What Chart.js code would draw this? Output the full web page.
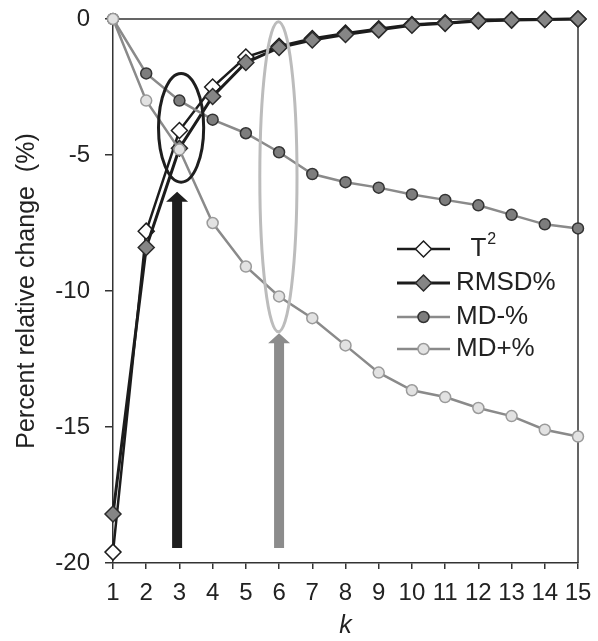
<!DOCTYPE html>
<html>
<head>
<meta charset="utf-8">
<script src="https://cdn.jsdelivr.net/npm/chart.js@4"></script>
<style>
  html, body { margin: 0; padding: 0; background: #fff; }
</style>
</head>
<body>
<canvas id="chart" width="598" height="641"></canvas>
<script>
// values
const kValues = [1, 2, 3, 4, 5, 6, 7, 8, 9, 10, 11, 12, 13, 14, 15];
const t2Values = [-19.6, -7.8, -4.1, -2.5, -1.4, -1.0, -0.72, -0.52, -0.36, -0.2, -0.14, -0.06, -0.03, -0.01, 0];
const rmsdValues = [-18.2, -8.4, -4.75, -2.85, -1.6, -1.05, -0.77, -0.57, -0.4, -0.23, -0.16, -0.07, -0.04, -0.02, 0];
const mdMinusValues = [0, -2.0, -3.0, -3.7, -4.2, -4.9, -5.7, -6.0, -6.2, -6.45, -6.65, -6.85, -7.2, -7.55, -7.7];
const mdPlusValues = [0, -3.0, -4.8, -7.5, -9.1, -10.2, -11.0, -12.0, -13.0, -13.65, -13.9, -14.3, -14.6, -15.1, -15.35];
const seriesNames = ["  T²", "RMSD%", "MD-%", "MD+%"];
const yTickValues = [0, -5, -10, -15, -20];

// annotations (in data units): ellipses and arrows
const ellipses = [
  { k: 3.05, top: -2.0, bottom: -6.0, halfK: 0.68, color: "#1e1e1e" },
  { k: 5.98, top: -0.1, bottom: -11.5, halfK: 0.56, color: "#bcbcbc" }
];
const arrows = [
  { k: 2.93, from: -19.45, to: -6.35, color: "#1e1e1e" },
  { k: 6.0, from: -19.45, to: -11.55, color: "#8c8c8c" }
];

const FONT = '"Liberation Sans Narrow", "Liberation Sans", Arial, sans-serif';
const toPoints = vals => kValues.map((k, i) => ({ x: k, y: vals[i] }));

const annotationPlugin = {
  id: "annotations",
  afterDatasetsDraw(chart) {
    const { ctx, scales: { x, y } } = chart;
    ctx.save();
    arrows.forEach(a => {
      const cx = x.getPixelForValue(a.k);
      const yb = y.getPixelForValue(a.from);
      const yt = y.getPixelForValue(a.to);
      ctx.fillStyle = a.color;
      ctx.beginPath();
      ctx.moveTo(cx - 5, yb);
      ctx.lineTo(cx - 5, yt + 10);
      ctx.lineTo(cx - 11, yt + 10);
      ctx.lineTo(cx, yt);
      ctx.lineTo(cx + 11, yt + 10);
      ctx.lineTo(cx + 5, yt + 10);
      ctx.lineTo(cx + 5, yb);
      ctx.closePath();
      ctx.fill();
    });
    ellipses.forEach(e => {
      const cx = x.getPixelForValue(e.k);
      const rx = x.getPixelForValue(e.k + e.halfK) - cx;
      const y1 = y.getPixelForValue(e.top);
      const y2 = y.getPixelForValue(e.bottom);
      ctx.strokeStyle = e.color;
      ctx.lineWidth = 3;
      ctx.beginPath();
      ctx.ellipse(cx, (y1 + y2) / 2, rx, (y2 - y1) / 2, 0, 0, Math.PI * 2);
      ctx.stroke();
    });
    ctx.restore();
  }
};

const framePlugin = {
  id: "frame",
  beforeDatasetsDraw(chart) {
    const { ctx, chartArea: a } = chart;
    ctx.save();
    ctx.strokeStyle = "#333";
    ctx.lineWidth = 1.5;
    ctx.beginPath();
    ctx.moveTo(a.left, a.top);
    ctx.lineTo(a.right, a.top);
    ctx.lineTo(a.right, a.bottom);
    ctx.stroke();
    ctx.restore();
  }
};

const legendPlugin = {
  id: "lineLegend",
  afterDraw(chart) {
    const { ctx } = chart;
    const rows = [249, 283, 317, 349];
    ctx.save();
    chart.data.datasets.forEach((ds, i) => {
      const yy = rows[i];
      ctx.strokeStyle = ds.borderColor;
      ctx.lineWidth = ds.borderWidth;
      ctx.beginPath();
      ctx.moveTo(397, yy);
      ctx.lineTo(450, yy);
      ctx.stroke();
      ctx.fillStyle = ds.pointBackgroundColor;
      ctx.strokeStyle = ds.pointBorderColor;
      ctx.lineWidth = ds.pointBorderWidth;
      Chart.helpers.drawPoint(ctx, { pointStyle: ds.pointStyle, radius: ds.pointRadius, borderWidth: ds.pointBorderWidth, rotation: 0 }, 423.5, yy);
      // label, with a raised "2" for the superscript
      ctx.fillStyle = "#222";
      ctx.textBaseline = "middle";
      let tx = 456;
      for (const ch of ds.label) {
        if (ch === "²") {
          ctx.font = "16px " + FONT;
          ctx.fillText("2", tx + 1, yy - 9);
          tx += ctx.measureText("2").width;
        } else {
          ctx.font = "26px " + FONT;
          ctx.fillText(ch, tx, yy);
          tx += ctx.measureText(ch).width;
        }
      }
    });
    ctx.restore();
  }
};

new Chart(document.getElementById("chart"), {
  type: "line",
  data: {
    datasets: [
      {
        label: seriesNames[0], data: toPoints(t2Values), order: 4,
        borderColor: "#1c1c1c", borderWidth: 2.5,
        pointStyle: "rectRot", pointRadius: 8, pointBorderWidth: 1.5,
        pointBackgroundColor: "#ffffff", pointBorderColor: "#1c1c1c"
      },
      {
        label: seriesNames[1], data: toPoints(rmsdValues), order: 3,
        borderColor: "#1c1c1c", borderWidth: 3,
        pointStyle: "rectRot", pointRadius: 8, pointBorderWidth: 1.5,
        pointBackgroundColor: "#858585", pointBorderColor: "#2a2a2a"
      },
      {
        label: seriesNames[2], data: toPoints(mdMinusValues), order: 2,
        borderColor: "#8a8a8a", borderWidth: 2.5,
        pointStyle: "circle", pointRadius: 5.5, pointBorderWidth: 1.5,
        pointBackgroundColor: "#7d7d7d", pointBorderColor: "#333333"
      },
      {
        label: seriesNames[3], data: toPoints(mdPlusValues), order: 1,
        borderColor: "#8a8a8a", borderWidth: 2.5,
        pointStyle: "circle", pointRadius: 5.5, pointBorderWidth: 1.5,
        pointBackgroundColor: "#e2e2e2", pointBorderColor: "#9a9a9a"
      }
    ]
  },
  options: {
    responsive: false,
    devicePixelRatio: 1,
    animation: false,
    clip: false,
    elements: { line: { tension: 0 } },
    layout: { padding: { top: 19, right: 20, left: 0, bottom: 0 } },
    plugins: { legend: { display: false }, tooltip: { enabled: false } },
    scales: {
      x: {
        type: "linear", min: 1, max: 15,
        afterFit: s => { s.height = 78; s.paddingLeft = 0; s.paddingRight = 0; },
        afterBuildTicks: s => { s.ticks = kValues.map(v => ({ value: v })); },
        ticks: { color: "#222", font: { family: FONT, size: 24 }, padding: 10, maxRotation: 0, autoSkip: false },
        grid: { drawOnChartArea: false, drawTicks: true, tickLength: 6, color: "#333", lineWidth: 1.5 },
        border: { display: true, color: "#333", width: 1.5 },
        title: { display: true, text: "k", color: "#222", font: { family: FONT, size: 25, style: "italic" }, padding: { top: 0, bottom: 0 } }
      },
      y: {
        min: -20, max: 0,
        afterFit: s => { s.width = 113; s.paddingTop = 0; s.paddingBottom = 0; },
        afterBuildTicks: s => { s.ticks = yTickValues.map(v => ({ value: v })); },
        ticks: { color: "#222", font: { family: FONT, size: 24 }, padding: 15 },
        grid: { drawOnChartArea: false, drawTicks: true, tickLength: 8, color: "#333", lineWidth: 1.5 },
        border: { display: true, color: "#333", width: 1.5 },
        title: { display: true, text: "Percent relative change  (%)", color: "#222", font: { family: FONT, size: 25 }, padding: { top: 12, bottom: 0 } }
      }
    }
  },
  plugins: [framePlugin, annotationPlugin, legendPlugin]
});
</script>
</body>
</html>
